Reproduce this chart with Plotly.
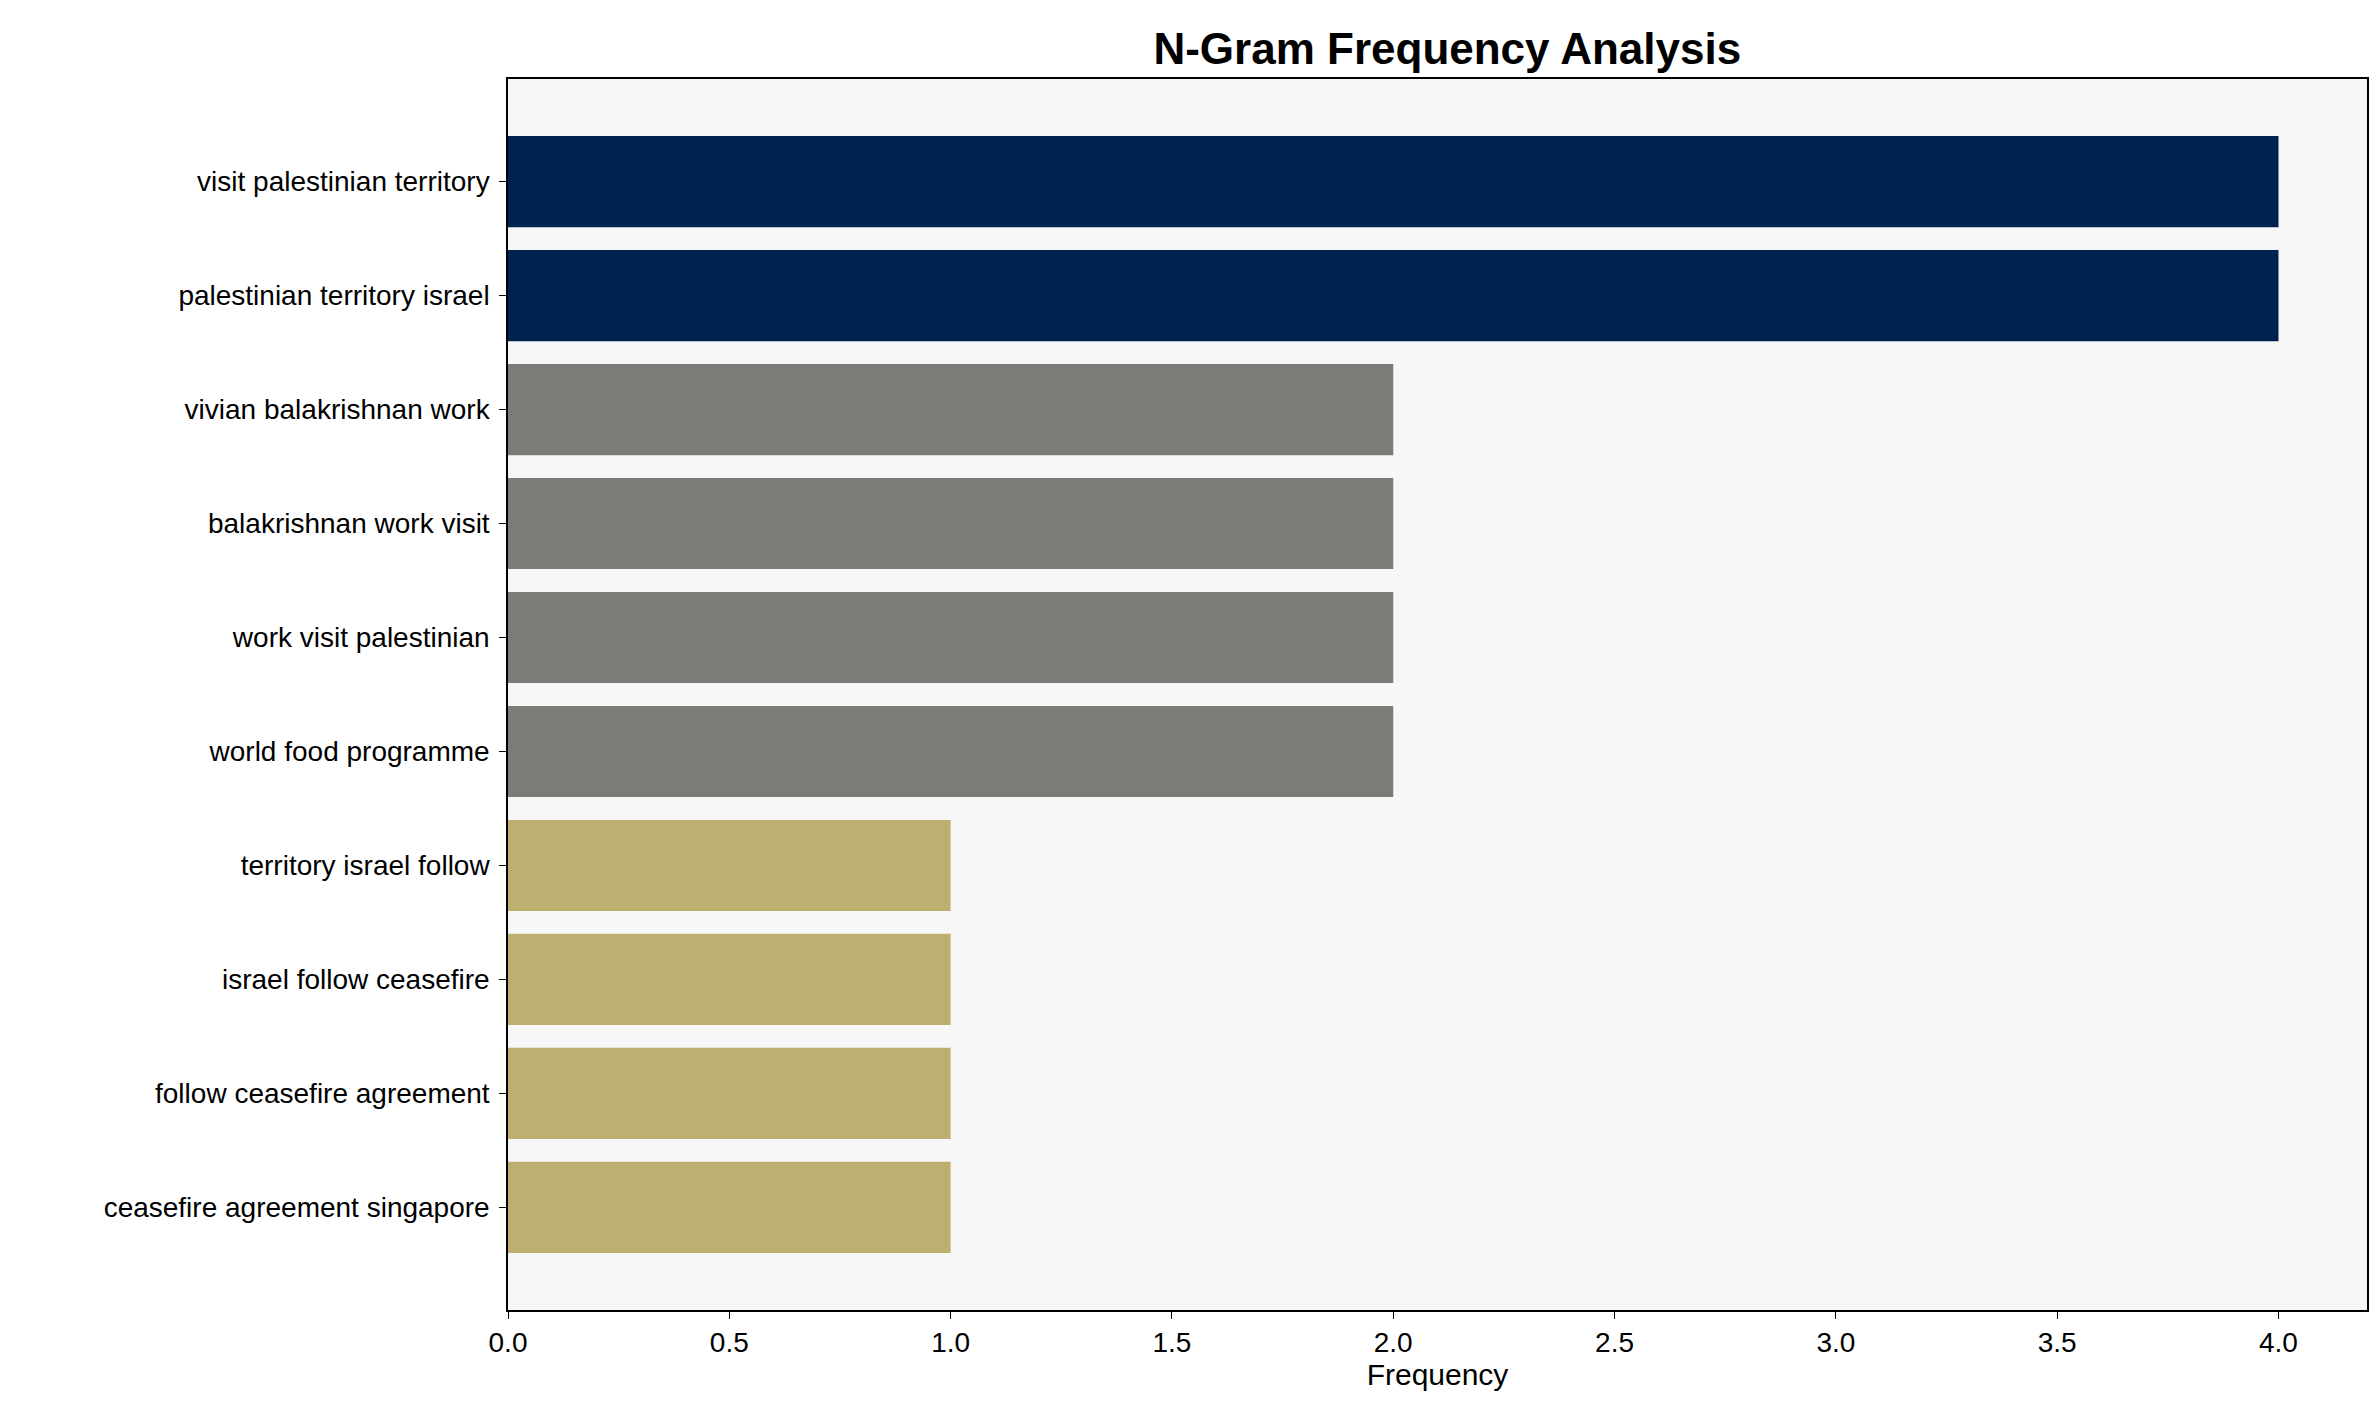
import plotly.graph_objects as go

ngrams = [
    "visit palestinian territory",
    "palestinian territory israel",
    "vivian balakrishnan work",
    "balakrishnan work visit",
    "work visit palestinian",
    "world food programme",
    "territory israel follow",
    "israel follow ceasefire",
    "follow ceasefire agreement",
    "ceasefire agreement singapore",
]
freqs = [4, 4, 2, 2, 2, 2, 1, 1, 1, 1]
color_by_freq = {4: "#00224e", 2: "#7c7b78", 1: "#bcaf6f"}
tick_vals = [0.0, 0.5, 1.0, 1.5, 2.0, 2.5, 3.0, 3.5, 4.0]

fig = go.Figure(
    go.Bar(
        x=freqs,
        y=ngrams,
        orientation="h",
        width=0.8,
        marker=dict(color=[color_by_freq[f] for f in freqs], line=dict(width=0)),
    )
)

axis_common = dict(
    showline=True, linecolor="black", linewidth=1.5, mirror=True,
    ticks="outside", ticklen=7, tickcolor="black", showgrid=False, zeroline=False,
    tickfont=dict(size=28, color="black"),
)
fig.update_layout(
    width=2379, height=1414,
    title=dict(text="<b>N-Gram Frequency Analysis</b>", x=0.605, xanchor="center", y=0.982,
               font=dict(size=44, color="black")),
    font=dict(family="Liberation Sans, Arial, sans-serif"),
    paper_bgcolor="white", plot_bgcolor="#f7f7f7",
    margin=dict(l=500, r=20, t=71, b=112),
    xaxis=dict(range=[0, 4.2], tickvals=tick_vals, ticktext=[f"{v:.1f}" for v in tick_vals],
               title=dict(text="Frequency", font=dict(size=30, color="black"), standoff=6),
               **axis_common),
    yaxis=dict(range=[9.9, -0.9], ticklabelstandoff=4, **axis_common),
    showlegend=False,
)
fig.write_html("out.html")
